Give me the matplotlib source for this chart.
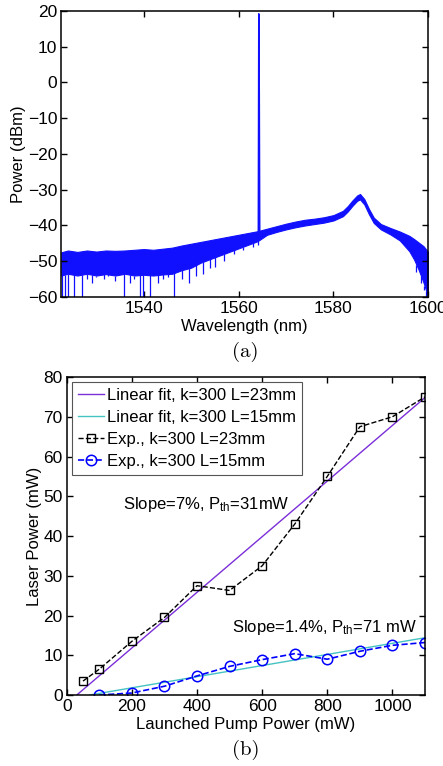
import numpy as np
import matplotlib.pyplot as plt

plt.rcParams['font.family'] = ['Liberation Sans', 'DejaVu Sans']
plt.rcParams['font.size'] = 12
plt.rcParams['mathtext.fontset'] = 'custom'
plt.rcParams['mathtext.rm'] = 'Liberation Sans'
plt.rcParams['mathtext.it'] = 'Liberation Sans'

# ---------------- (a) spectrum ----------------
wl_env = [1522.6, 1524, 1526, 1528, 1530, 1532, 1534, 1536, 1538, 1540,
          1542, 1544, 1546, 1548, 1550, 1552, 1554, 1556, 1558, 1560,
          1562, 1564, 1566, 1568, 1570, 1572, 1574, 1576, 1578, 1580,
          1582, 1583, 1584, 1585, 1585.6, 1586.5, 1587.5, 1588.5, 1590, 1592,
          1594, 1596, 1597, 1598, 1599, 1600]
upper = [-47.5, -47, -47.4, -47, -47.3, -47, -47.1, -47, -46.8, -46.6,
         -46.8, -46.5, -46.2, -45.6, -45.1, -44.6, -44.1, -43.6, -43.1, -42.6,
         -42.1, -41.6, -40.9, -40.2, -39.5, -38.9, -38.4, -38.1, -37.7, -37.1,
         -35.9, -34.6, -33.0, -31.6, -31.2, -32.6, -35.4, -37.8, -39.6, -40.7,
         -41.7, -42.9, -43.8, -44.8, -45.8, -47.5]
lower = [-54, -53.5, -54, -53.5, -54, -53.6, -54, -53.5, -54, -53.8,
         -54, -53.7, -53.5, -52.5, -51.8, -50.4, -49.4, -48.4, -47.4, -46.4,
         -45.4, -44.4, -42.6, -41.8, -41.1, -40.5, -40.0, -39.6, -39.2, -38.6,
         -37.4, -36.1, -34.5, -33.1, -32.7, -34.1, -36.9, -39.3, -41.1, -42.5,
         -44.2, -47.2, -49.5, -52.5, -56, -60]

dip_wl = [1522.7, 1523.4, 1524.1, 1525.2, 1526.9, 1535.8, 1539.3, 1539.8, 1541.4, 1546.4,
          1528, 1529, 1530, 1531.5, 1532.5, 1534, 1537, 1538, 1543, 1544, 1545,
          1548, 1549.5, 1551, 1552.5, 1554, 1555, 1557, 1559, 1561, 1563, 1564.1,
          1597.5, 1598.5, 1599.2, 1599.6]
dip_db = [-60, -60, -60, -60, -60, -60, -60, -60, -60, -60,
          -55, -56, -54.5, -55, -54, -55.5, -56, -55, -56, -55, -54.5,
          -55, -56, -54, -53.5, -52, -51.5, -50, -48, -47, -46, -45.5,
          -53, -56, -58, -60]

spike_wl = [1564.15, 1564.25, 1564.3, 1564.35, 1564.45]
spike_db = [-42.5, 19.2, -2, -2, -42]

# ---------------- (b) laser power vs pump power ----------------
pump_23 = [50, 100, 200, 300, 400, 500, 600, 700, 800, 900, 1000, 1100]
laser_23 = [3.5, 6.5, 13.5, 19.5, 27.5, 26.3, 32.5, 43, 55, 67.5, 70, 75]
pump_15 = [100, 200, 300, 400, 500, 600, 700, 800, 900, 1000, 1100]
laser_15 = [0, 0.5, 2.2, 4.8, 7.2, 8.9, 10.4, 9, 11, 12.5, 13.2]

slope_23, pth_23 = 0.07, 31
slope_15, pth_15 = 0.014, 71
pump_max = 1100

fig = plt.figure(figsize=(4.43, 7.66), dpi=100)

ax1 = fig.add_axes([0.1384, 0.6123, 0.8284, 0.3734])
ax1.fill_between(wl_env, lower, upper, color='#1010ff', lw=0.8)
ax1.vlines(dip_wl, [np.interp(w, wl_env, lower) for w in dip_wl], dip_db, color='#1010ff', lw=0.9)
ax1.plot(spike_wl, spike_db, color='#1010ff', lw=1.1)
ax1.set_xlim(1522.6, 1600)
ax1.set_ylim(-60, 20)
ax1.set_xticks([1540, 1560, 1580, 1600])
ax1.set_yticks(np.arange(-60, 21, 10))
ax1.set_xlabel('Wavelength (nm)', labelpad=2)
ax1.set_ylabel('Power (dBm)', labelpad=1)
ax1.text(0.5, -0.192, '(a)', transform=ax1.transAxes, ha='center', va='center',
         fontfamily='cmr10', fontsize=15)

ax2 = fig.add_axes([0.1506, 0.0927, 0.8088, 0.4151])
fx23 = np.array([pth_23, pump_max])
fx15 = np.array([pth_15, pump_max])
ax2.plot(fx23, slope_23 * (fx23 - pth_23), color='#7b2fd8', lw=1.0,
         label='Linear fit, k=300 L=23mm')
ax2.plot(fx15, slope_15 * (fx15 - pth_15), color='#45c2c2', lw=1.0,
         label='Linear fit, k=300 L=15mm')
ax2.plot(pump_23, laser_23, '--s', color='black', mfc='none', ms=6, mew=1.0, lw=1.0,
         label='Exp., k=300 L=23mm')
ax2.plot(pump_15, laser_15, '--o', color='#0000ff', mfc='none', ms=7.5, mew=1.1, lw=1.2,
         label='Exp., k=300 L=15mm')
ax2.set_xlim(0, 1100)
ax2.set_ylim(0, 80)
ax2.set_xticks(np.arange(0, 1001, 200))
ax2.set_yticks(np.arange(0, 81, 10))
ax2.set_xlabel('Launched Pump Power (mW)', labelpad=2)
ax2.set_ylabel('Laser Power (mW)', labelpad=1)
ax2.text(173, 48, r'Slope=7%, P$_{\rm th}$=31mW', ha='left', va='center')
ax2.text(507, 17, r'Slope=1.4%, P$_{\rm th}$=71 mW', ha='left', va='center')
leg = ax2.legend(loc='upper left', handlelength=1.6, handletextpad=0.15,
                 borderaxespad=0.3, borderpad=0.35, labelspacing=0.42,
                 fancybox=False, framealpha=1, fontsize=12)
leg.get_frame().set_edgecolor('#555555')
leg.get_frame().set_linewidth(0.8)
ax2.text(0.5, -0.173, '(b)', transform=ax2.transAxes, ha='center', va='center',
         fontfamily='cmr10', fontsize=15)

for ax in (ax1, ax2):
    ax.tick_params(direction='in', top=True, right=True, length=4, width=1, pad=3,
                   labelsize=12.5)
    for s in ax.spines.values():
        s.set_linewidth(1.1)

fig.savefig('out.png', dpi=100)
